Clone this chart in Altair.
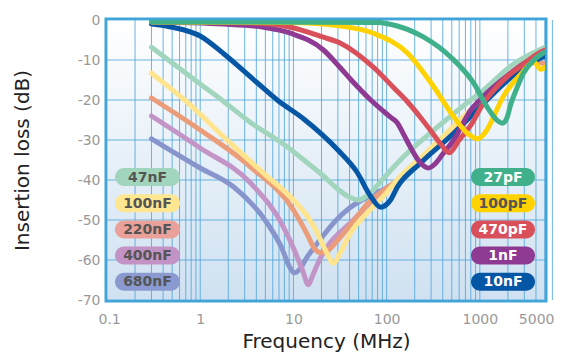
import altair as alt
import pandas as pd

# ---------------- data ----------------
f_47nF = [0.3, 1, 1.77, 3.4, 7.8, 15, 21, 30, 40, 50, 65, 80, 100, 150, 350, 800, 1000, 2300, 5000]
db_47nF = [-6.8, -16, -20.3, -25.5, -31, -36.2, -39, -42.3, -44.3, -45, -43.5, -41.3, -38.7, -34.3, -26.8, -20, -18.3, -11, -6.8]

f_100nF = [0.3, 0.72, 2, 5, 10, 14, 18, 22, 27, 32, 41, 60, 93, 141, 230, 525, 1000, 2000, 3000, 5000]
db_100nF = [-13.3, -20.5, -30.3, -38.7, -45, -49, -53.2, -57.5, -60.8, -58, -53.2, -48.5, -44, -39, -34.5, -26.5, -20.3, -13.8, -10.5, -8]

f_220nF = [0.3, 1, 3.45, 10, 14, 17, 20, 23, 30, 45, 62, 100, 141, 230, 525, 1000, 2000, 3000, 4000, 5000]
db_220nF = [-19.5, -27.5, -36.7, -47.5, -53.5, -57.3, -58.2, -57.8, -55, -50, -46, -42, -39.5, -35, -27.5, -21, -14.3, -11, -10.5, -11]

f_400nF = [0.3, 1, 3.45, 7.8, 10, 12.5, 14.5, 16, 19, 23, 41, 70, 100, 141, 230, 525, 1000, 2000, 3000, 5000]
db_400nF = [-24, -32, -40.7, -51.7, -57, -62.5, -66.2, -64, -60, -56.7, -50.7, -45.5, -42.5, -40, -35.3, -27.8, -21.3, -14.6, -11.3, -8.5]

f_680nF = [0.3, 1, 2.27, 5.2, 7.5, 9, 10.2, 11.5, 14, 20, 27, 40, 62, 100, 141, 230, 525, 1000, 2000, 3000, 5000]
db_680nF = [-29.7, -37, -41.7, -50.7, -57, -61.5, -63.2, -62.5, -59.3, -54.5, -50.7, -47, -44.3, -42, -40.3, -35.5, -28, -21.5, -14.8, -11.4, -8.5]

f_27pF = [0.3, 80, 130, 250, 488, 860, 1200, 1550, 1750, 1950, 2150, 2500, 2900, 3800, 5000]
db_27pF = [-0.5, -0.6, -1.5, -4.3, -9.3, -15.8, -21.8, -25.2, -25.8, -24.5, -21, -17, -13.5, -10, -8]

f_100pF = [0.3, 10, 21, 32, 72, 168, 320, 525, 750, 950, 1150, 1550, 1700, 2770, 3800, 4500, 5000]
db_100pF = [-0.5, -0.6, -1, -1.5, -3.3, -8.3, -16.7, -24.2, -28.5, -29.7, -28, -22, -20, -13.5, -10.5, -12.3, -11.8]

f_470pF = [0.3, 3.45, 9.3, 21, 32, 72, 120, 168, 230, 300, 380, 470, 600, 800, 1100, 1300, 2000, 2600, 4500, 5000]
db_470pF = [-0.5, -0.7, -1.8, -4.3, -5.8, -11.8, -17, -20.5, -24.3, -27.8, -31, -33.2, -30, -26.3, -20.7, -18.5, -14, -12, -8, -7.5]

f_1nF = [0.3, 1.77, 4.8, 9.3, 21, 32, 41, 67.5, 110, 131, 150, 180, 230, 280, 330, 400, 525, 800, 1100, 2000, 3000, 5000]
db_1nF = [-0.5, -1, -1.8, -3.3, -7.5, -12, -14.8, -20, -24.3, -25.8, -28.3, -31.8, -35.7, -37, -36, -33.5, -30, -22.5, -19, -13.8, -10.8, -8]

f_10nF = [0.3, 0.5, 1, 1.8, 4, 6.7, 13, 30, 48, 67, 86, 110, 130, 230, 525, 1000, 2000, 3000, 5000]
db_10nF = [-1, -1.8, -4, -8.5, -15.5, -20, -24.8, -32.5, -38, -44, -46.8, -45, -41.8, -35.8, -28.3, -21.8, -15, -11.8, -9]

left_labels = ["47nF", "100nF", "220nF", "400nF", "680nF"]
right_labels = ["27pF", "100pF", "470pF", "1nF", "10nF"]

x_labels = [0.1, 1, 10, 100, 1000, 5000]
y_ticks = [-70, -60, -50, -40, -30, -20, -10, 0]

# ---------------- styles ----------------
series = {
    "680nF": (f_680nF, db_680nF, "#8795cc"),
    "400nF": (f_400nF, db_400nF, "#c395c6"),
    "220nF": (f_220nF, db_220nF, "#eb9d7a"),
    "100nF": (f_100nF, db_100nF, "#ffe48e"),
    "47nF": (f_47nF, db_47nF, "#a2d5bd"),
    "10nF": (f_10nF, db_10nF, "#0656a6"),
    "1nF": (f_1nF, db_1nF, "#8e3a92"),
    "470pF": (f_470pF, db_470pF, "#d9505b"),
    "100pF": (f_100pF, db_100pF, "#ffd200"),
    "27pF": (f_27pF, db_27pF, "#3fb08a"),
}

pill_fill = {
    "47nF": "#a2d5bd", "100nF": "#ffe690", "220nF": "#e9a19a", "400nF": "#c493c5", "680nF": "#8a9ad0",
    "27pF": "#3fb08a", "100pF": "#ffd200", "470pF": "#d9505b", "1nF": "#8e3a92", "10nF": "#0656a6",
}
pill_text = {
    "47nF": "#555555", "100nF": "#555555", "220nF": "#555555", "400nF": "#555555", "680nF": "#555555",
    "27pF": "#ffffff", "100pF": "#555555", "470pF": "#ffffff", "1nF": "#ffffff", "10nF": "#ffffff",
}

rows = []
for name, (fs, ds, _) in series.items():
    for f, d in zip(fs, ds):
        rows.append({"series": name, "f": f, "db": d})
df = pd.DataFrame(rows)

# minor grid values for the log axis
grid_vals = []
for dec in [0.1, 1, 10, 100, 1000]:
    for m in range(1, 10):
        grid_vals.append(round(dec * m, 6))
grid_vals.append(5000)

W, H = 438, 280
GRID = "#4aa3d8"

x_enc = alt.X(
    "f:Q",
    scale=alt.Scale(type="log", domain=[0.1, 5000], nice=False),
    axis=alt.Axis(
        values=x_labels,
        labelExpr="'' + datum.value",
        grid=False, ticks=False, domain=False, labelPadding=12, labelFontSize=14, labelColor="#999999",
        labelFont="DejaVu Sans", labelFlush=True, labelFlushOffset=9, labelOverlap=False,
        title="Frequency (MHz)", titleFontSize=20, titleFont="DejaVu Sans", titleFontWeight="normal",
        titleColor="#222222", titleBaseline="alphabetic", titleY=47,
    ),
)
y_enc = alt.Y(
    "db:Q",
    scale=alt.Scale(domain=[-70, 0], nice=False),
    axis=alt.Axis(
        values=y_ticks, labelExpr="'' + datum.value",
        grid=False, ticks=False, domain=False, labelPadding=7, labelFontSize=14, labelColor="#999999",
        labelFont="DejaVu Sans", labelFlush=False,
        title="Insertion loss (dB)", titleFontSize=20, titleFont="DejaVu Sans", titleFontWeight="normal",
        titleColor="#222222", titleAngle=270, titleX=-85, titleY=H / 2,
        titleAlign="center", titleBaseline="middle",
    ),
)

# background gradient of the plotting area
bg = alt.Chart(pd.DataFrame({"k": [0]})).mark_rect(
    color=alt.LinearGradient(
        gradient="linear", x1=0, y1=0, x2=0, y2=1,
        stops=[alt.GradientStop(offset=0, color="#ffffff"), alt.GradientStop(offset=1, color="#cfe1f1")],
    )
).encode(x=alt.value(0), x2=alt.value(W), y=alt.value(0), y2=alt.value(H))

# grid lines drawn as rules so they sit above the gradient
vgrid = alt.Chart(pd.DataFrame({"f": grid_vals})).mark_rule(
    color=GRID, strokeWidth=1, opacity=0.8
).encode(x=x_enc, y=alt.value(0), y2=alt.value(H))
hgrid = alt.Chart(pd.DataFrame({"db": y_ticks})).mark_rule(
    color=GRID, strokeWidth=1, opacity=0.8
).encode(y=y_enc, x=alt.value(0), x2=alt.value(W))

base = alt.Chart(df)
layers = []
for name, (_, _, color) in series.items():
    layer = base.transform_filter(alt.datum.series == name).mark_line(
        color=color, strokeWidth=5, interpolate="monotone", strokeCap="round", strokeJoin="round", clip=True
    ).encode(x=x_enc, y=y_enc)
    layers.append(layer)

# ---------------- custom pill legend ----------------
leg_rows = []
for col, labels, x0, x1 in [(0, left_labels, 8, 73), (1, right_labels, 364, 428)]:
    for i, lab in enumerate(labels):
        cy = 157 + i * 26.2
        leg_rows.append({"label": lab, "x0": x0, "x1": x1, "cx": (x0 + x1) / 2,
                         "y0": cy - 9, "y1": cy + 9, "cy": cy + 0.5,
                         "fill": pill_fill[lab], "tcol": pill_text[lab]})
leg = pd.DataFrame(leg_rows)

pills = alt.Chart(leg).mark_rect(cornerRadius=9).encode(
    x=alt.X("x0:Q", scale=None, axis=None), x2="x1:Q",
    y=alt.Y("y0:Q", scale=None, axis=None), y2="y1:Q",
    color=alt.Color("fill:N", scale=None),
)
texts = alt.Chart(leg).mark_text(
    font="DejaVu Sans", fontSize=14, fontWeight="bold", baseline="middle", align="center"
).encode(
    x=alt.X("cx:Q", scale=None, axis=None),
    y=alt.Y("cy:Q", scale=None, axis=None),
    text="label:N",
    color=alt.Color("tcol:N", scale=None),
)

chart = alt.layer(bg, vgrid, hgrid, *layers, pills, texts).properties(
    width=W, height=H,
    autosize=alt.AutoSizeParams(type="none"),
    padding={"left": 99, "top": 12, "right": 10, "bottom": 60},
    background="#ffffff",
).configure_view(
    stroke="#3ea5d8", strokeWidth=5,
)

chart.save("out.html", embed_options={"renderer": "svg", "actions": False})
